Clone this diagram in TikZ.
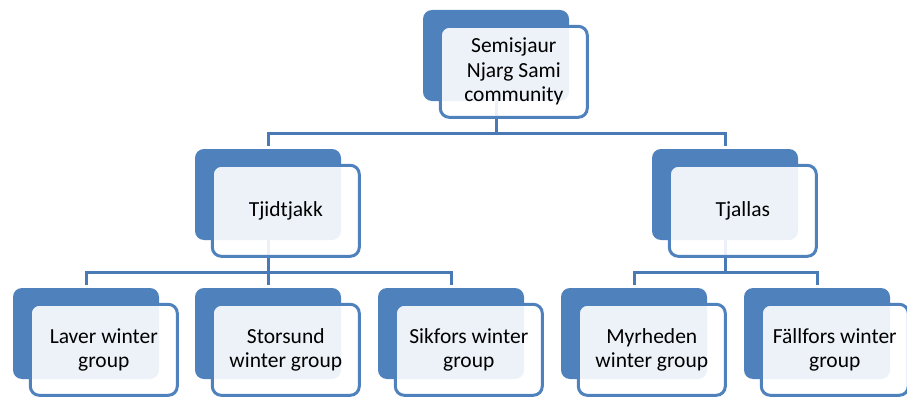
\documentclass[tikz,border=0pt]{standalone}
\usepackage{fontspec}
\setmainfont{Carlito}
\usepackage{tikz}
\usetikzlibrary{positioning}

\definecolor{smartblue}{HTML}{4F81BD}
\definecolor{linkblue}{HTML}{4A7AB5}

\begin{document}
\begin{tikzpicture}[x=1pt, y=-1pt,
	back/.style={fill=smartblue, rounded corners=9pt, minimum width=146pt, minimum height=91pt, inner sep=0pt},
	front/.style={draw=smartblue, line width=3pt, fill=white, fill opacity=0.9, text opacity=1, rounded corners=9pt, minimum width=147pt, minimum height=91pt, inner sep=0pt, align=center, font=\fontsize{21.5}{24.5}\selectfont},
	link/.style={draw=linkblue, line width=3pt, shorten >=3pt}]

	\useasboundingbox (0,0) rectangle (907,396);

	\foreach \n/\x/\y in {top/496/55.5, tji/268/194.5, tja/725/194.5, lav/86/333.5, sto/268/333.5, sik/451/333.5, myr/634/333.5, fal/817/333.5}
		\node[back] (b-\n) at (\x,\y) {};


	\draw[link] (b-top.south) -- ++(0,32) -| (b-tji.north);
	\draw[link] (b-top.south) -- ++(0,32) -| (b-tja.north);
	\foreach \c in {lav,sto,sik}
		\draw[link] (b-tji.south) -- ++(0,32) -| (b-\c.north);
	\foreach \c in {myr,fal}
		\draw[link] (b-tja.south) -- ++(0,32) -| (b-\c.north);


	\foreach \n/\t in {top/{Semisjaur\\Njarg Sami\\community}, tji/Tjidtjakk, tja/Tjallas, lav/{Laver winter\\group}, sto/{Storsund\\winter group}, sik/{Sikfors winter\\group}, myr/{Myrheden\\winter group}, fal/{Fällfors winter\\group}}
		\node[front, anchor=north west] (f-\n) at ([shift={(16,15)}]b-\n.north west) {\t};


\end{tikzpicture}
\end{document}
